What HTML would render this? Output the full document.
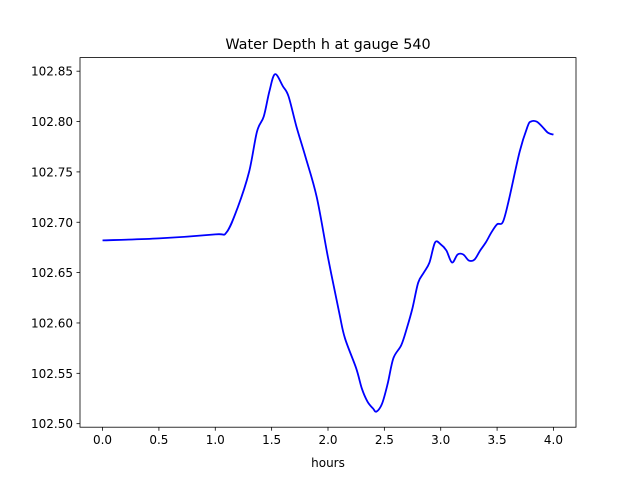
<!DOCTYPE html>
<html><head><meta charset="utf-8"><style>
html,body{margin:0;padding:0;background:#fff;}
svg text{font-family:"DejaVu Sans","Liberation Sans",sans-serif;fill:#000;}
</style></head><body>
<svg id="chart" width="640" height="480" xmlns="http://www.w3.org/2000/svg">
<rect x="0" y="0" width="640" height="480" fill="#fff"/>
<text x="328" y="49" font-size="14.4" text-anchor="middle">Water Depth h at gauge 540</text>
<text x="328" y="467" font-size="12" text-anchor="middle">hours</text>
<g id="ticks"></g>
<path id="line" fill="none" stroke="#0000ff" stroke-width="1.8" stroke-linejoin="round"/>
<rect x="80" y="57.6" width="496" height="369.6" fill="none" stroke="#000" stroke-width="0.8"/>
</svg>
<script>
const hours=[0,0.5,1.0,1.1,1.2,1.3,1.37,1.43,1.48,1.53,1.6,1.65,1.72,1.8,1.9,2.0,2.1,2.15,2.25,2.3,2.35,2.4,2.43,2.48,2.53,2.58,2.65,2.7,2.75,2.8,2.85,2.9,2.95,3.0,3.05,3.1,3.15,3.2,3.25,3.3,3.35,3.4,3.45,3.5,3.55,3.6,3.7,3.77,3.8,3.85,3.9,3.95,4.0];
const depth=[102.682,102.684,102.688,102.690,102.715,102.75,102.79,102.805,102.83,102.847,102.835,102.825,102.795,102.765,102.725,102.665,102.61,102.585,102.555,102.535,102.522,102.515,102.512,102.52,102.54,102.565,102.578,102.595,102.615,102.64,102.65,102.66,102.68,102.678,102.672,102.66,102.668,102.668,102.662,102.663,102.672,102.68,102.69,102.698,102.70,102.72,102.77,102.795,102.80,102.80,102.795,102.789,102.787];
const xTicks=[0,0.5,1.0,1.5,2.0,2.5,3.0,3.5,4.0];
const yTicks=[102.50,102.55,102.60,102.65,102.70,102.75,102.80,102.85];
const L=80,R=576,T=57.6,B=427.2,xmin=-0.2,xmax=4.2,ymin=102.4965,ymax=102.8635;
const xs=v=>L+(v-xmin)/(xmax-xmin)*(R-L);
const ys=v=>B-(v-ymin)/(ymax-ymin)*(B-T);
const NS="http://www.w3.org/2000/svg";
const g=document.getElementById('ticks');
function mk(t,a){const e=document.createElementNS(NS,t);for(const k in a)e.setAttribute(k,a[k]);return e;}
xTicks.forEach(v=>{
 const x=xs(v);
 const l=mk('line',{x1:x,x2:x,y1:B,y2:B+3.5,stroke:'#000','stroke-width':0.8});
 
 
 g.appendChild(l);
 const t=mk('text',{x:x,y:B+17,'font-size':12,'text-anchor':'middle'});
 
 
 t.textContent=v.toFixed(1);g.appendChild(t);
});
yTicks.forEach(v=>{
 const y=ys(v);
 const l=mk('line',{x1:L-3.5,x2:L,y1:y,y2:y,stroke:'#000','stroke-width':0.8});
 
 
 g.appendChild(l);
 const t=mk('text',{x:L-7,y:y+4.5,'font-size':12,'text-anchor':'end'});
 
 
 t.textContent=v.toFixed(2);g.appendChild(t);
});
const pts=hours.map((h,i)=>[xs(h),ys(depth[i])]);
let d='M'+pts[0][0]+','+pts[0][1];
for(let i=0;i<pts.length-1;i++){
 const p0=pts[i-1]||pts[i],p1=pts[i],p2=pts[i+1],p3=pts[i+2]||p2;
 const c1=[p1[0]+(p2[0]-p0[0])/6,p1[1]+(p2[1]-p0[1])/6];
 const c2=[p2[0]-(p3[0]-p1[0])/6,p2[1]-(p3[1]-p1[1])/6];
 d+=' C'+c1+' '+c2+' '+p2;
}
document.getElementById('line').setAttribute('d',d);
</script>
</body></html>
